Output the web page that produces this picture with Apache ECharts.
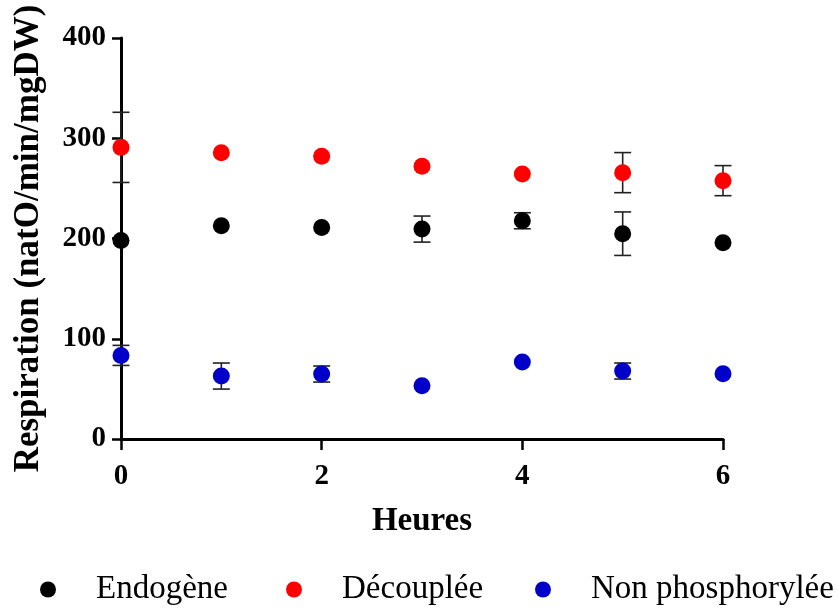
<!DOCTYPE html>
<html>
<head>
<meta charset="utf-8">
<script src="https://cdn.jsdelivr.net/npm/echarts@6/dist/echarts.min.js"></script>
<style>html,body{margin:0;padding:0;background:#fff}#c{width:838px;height:610px}</style>
</head>
<body>
<div id="c"></div>
<script>
const hours = [0, 1, 2, 3, 4, 5, 6];
const xTicks = [0, 2, 4, 6];
const yTicks = [0, 100, 200, 300, 400];
const seriesNames = ['Endogène', 'Découplée', 'Non phosphorylée'];
const endogene = [198, 212.7, 211, 209.4, 217.7, 204.8, 195.8];
const endogeneErr = [0, 0, 0, 13, 8, 21.7, 0];
const decouplee = [290.9, 285.5, 282, 272, 264.3, 265.7, 257.7];
const decoupleeErr = [35, 0, 0, 0, 0, 20, 15];
const nonPhos = [83.4, 62.8, 64.8, 53.2, 76.7, 67.8, 65.2];
const nonPhosErr = [10, 13, 8, 0, 0, 8, 0];
const colors = ['#000000', '#ff0000', '#0000c8'];

const font = 'Liberation Serif';
const chart = echarts.init(document.getElementById('c'));

function errData(vals, errs) {
  return hours.map((h, i) => [h, vals[i] - errs[i], vals[i] + errs[i]]);
}
function errSeries(vals, errs) {
  return {
    type: 'custom',
    z: 1,
    silent: true,
    data: errData(vals, errs),
    renderItem: function (params, api) {
      const x = api.value(0);
      if (api.value(2) - api.value(1) <= 0) return null;
      const lo = api.coord([x, api.value(1)]);
      const hi = api.coord([x, api.value(2)]);
      const hw = 8.5;
      const st = { stroke: '#222', lineWidth: 1.6 };
      return {
        type: 'group',
        children: [
          { type: 'line', shape: { x1: lo[0], y1: lo[1], x2: hi[0], y2: hi[1] }, style: st },
          { type: 'line', shape: { x1: lo[0] - hw, y1: lo[1], x2: lo[0] + hw, y2: lo[1] }, style: st },
          { type: 'line', shape: { x1: hi[0] - hw, y1: hi[1], x2: hi[0] + hw, y2: hi[1] }, style: st }
        ]
      };
    }
  };
}
function pts(vals) { return hours.map((h, i) => [h, vals[i]]); }

const legendLefts = [35, 281, 530];
const legends = seriesNames.map((n, i) => ({
  data: [n],
  left: legendLefts[i],
  top: 568,
  icon: 'circle',
  itemWidth: 86,
  itemHeight: 16,
  itemGap: 0,
  textStyle: { fontFamily: font, fontSize: 33, color: '#000' }
}));

chart.setOption({
  animation: false,
  color: colors,
  legend: legends,
  grid: { left: 121, top: 38, width: 602, height: 401, containLabel: false },
  xAxis: {
    type: 'value', min: 0, max: 6, interval: 2,
    name: 'Heures', nameLocation: 'middle', nameGap: 66,
    nameTextStyle: { fontFamily: font, fontSize: 33, fontWeight: 'bold', color: '#000' },
    axisLine: { show: true, lineStyle: { color: '#000', width: 3 } },
    axisTick: { show: true, length: 11, lineStyle: { color: '#000', width: 2.5 } },
    axisLabel: { fontFamily: font, fontSize: 29, fontWeight: 'bold', color: '#000', margin: 23,
      formatter: v => xTicks.indexOf(v) >= 0 ? String(v) : '' },
    splitLine: { show: false }
  },
  yAxis: {
    type: 'value', min: 0, max: 400, interval: 100,
    name: 'Respiration (natO/min/mgDW)', nameLocation: 'middle', nameGap: 75,
    nameTextStyle: { fontFamily: font, fontSize: 35, fontWeight: 'bold', color: '#000' },
    axisLine: { show: true, lineStyle: { color: '#000', width: 3 } },
    axisTick: { show: true, length: 9, lineStyle: { color: '#000', width: 2.5 } },
    axisLabel: { fontFamily: font, fontSize: 29, fontWeight: 'bold', color: '#000', margin: 15,
      formatter: v => yTicks.indexOf(v) >= 0 ? String(v) : '' },
    splitLine: { show: false }
  },
  series: [
    errSeries(endogene, endogeneErr),
    errSeries(decouplee, decoupleeErr),
    errSeries(nonPhos, nonPhosErr),
    { name: seriesNames[0], type: 'scatter', z: 3, symbolSize: 17, data: pts(endogene), itemStyle: { color: colors[0], opacity: 1 } },
    { name: seriesNames[1], type: 'scatter', z: 3, symbolSize: 17, data: pts(decouplee), itemStyle: { color: colors[1], opacity: 1 } },
    { name: seriesNames[2], type: 'scatter', z: 3, symbolSize: 17, data: pts(nonPhos), itemStyle: { color: colors[2], opacity: 1 } }
  ]
});
</script>
</body>
</html>
